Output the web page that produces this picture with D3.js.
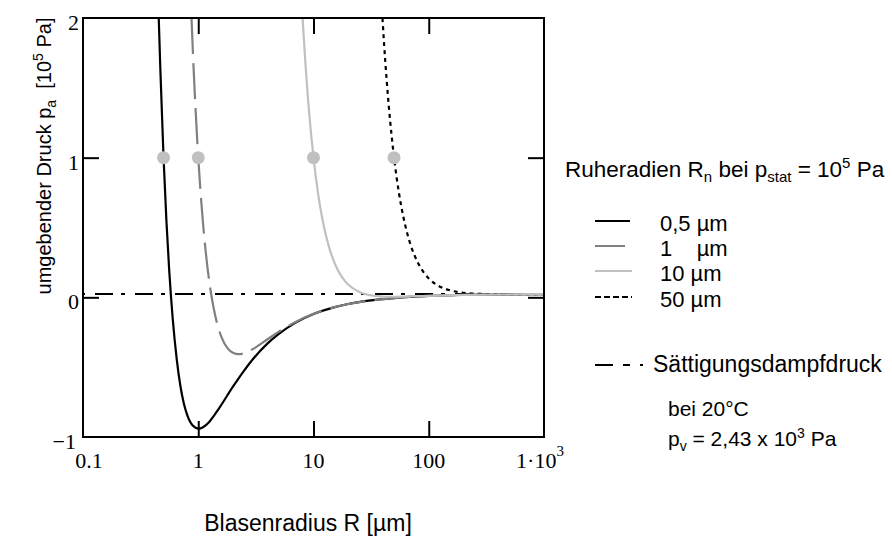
<!DOCTYPE html>
<html>
<head>
<meta charset="utf-8">
<title>Blake-Schwelle</title>
<style>
	body{ margin:0; background:#fff; }
	.sans{ font-family:"Liberation Sans", Arial, sans-serif; font-size:21px; fill:#000; }
	.serif{ font-family:"Liberation Serif", "Times New Roman", serif; font-size:22px; fill:#000; }
	.tick line{ stroke:#000; stroke-width:2; }
	.domain{ display:none; }
</style>
</head>
<body>
<div id="chart"></div>
<script src="https://d3js.org/d3.v7.min.js"></script>
<script type="text/javascript">

// Ruheradien (µm) und Legendentexte
var restRadius = [0.5, 1, 10, 50],
	legendLabels = ['0,5 µm', '1    µm', '10 µm', '50 µm'];

// Achsen
var xTicks = [0.1, 1, 10, 100, 1000],
	xTickLabels = ['0.1', '1', '10', '100', '1·10'],
	yTicks = [-1, 0, 1, 2],
	yTickLabels = ['\u22121', '0', '1', '2'];

// Sättigungsdampfdruck in 10^5 Pa
var vaporPressure = 0.0243;

var curve05 = [[0.454,2.0],[0.47,1.61],[0.5,1.0],[0.53,0.54],[0.56,0.19],[0.6,-0.15],[0.65,-0.44],[0.7,-0.635],
	[0.75,-0.76],[0.8,-0.84],[0.9,-0.92],[1.0,-0.94],[1.1,-0.93],[1.25,-0.89],[1.5,-0.80],[2,-0.64],[2.5,-0.525],
	[3,-0.44],[4,-0.33],[5,-0.262],[7,-0.181],[10,-0.12],[15,-0.072],[20,-0.048],[30,-0.024],[50,-0.005],
	[100,0.0098],[200,0.017],[500,0.0214],[1000,0.0229]];

var curve1 = [[0.874,2.0],[0.9,1.74],[0.95,1.33],[1.0,1.0],[1.05,0.74],[1.1,0.53],[1.2,0.22],[1.3,0.013],
	[1.4,-0.127],[1.6,-0.29],[1.8,-0.365],[2.0,-0.397],[2.24,-0.407],[2.6,-0.395],[3,-0.369],[4,-0.30],
	[5,-0.246],[7,-0.176],[10,-0.118],[15,-0.072],[20,-0.048],[30,-0.024],[50,-0.005],[100,0.0098],
	[200,0.017],[500,0.0214],[1000,0.0229]];

var curve10 = [[8.04,2.0],[8.5,1.68],[9,1.40],[9.5,1.18],[10,1.0],[11,0.734],[12,0.552],[13,0.423],[14,0.329],
	[16,0.207],[18,0.136],[20,0.092],[25,0.038],[30,0.0175],[40,0.0056],[48,0.0042],[60,0.0053],[80,0.0084],
	[100,0.0109],[200,0.0172],[500,0.0214],[1000,0.0229]];

var curve50 = [[39.67,2.0],[41,1.81],[43,1.57],[45,1.37],[47.5,1.166],[50,1.0],[55,0.753],[60,0.582],[65,0.459],
	[70,0.37],[80,0.252],[90,0.181],[100,0.135],[120,0.085],[150,0.052],[200,0.0328],[300,0.0241],[500,0.0224],
	[700,0.0226],[1000,0.023]];

var w = 892, h = 538,
	plotLeft = 83, plotRight = 544, plotTop = 18, plotBottom = 437;

var x = d3.scaleLog().domain([0.1, 1000]).range([plotLeft, plotRight]),
	y = d3.scaleLinear().domain([-1, 2]).range([plotBottom, plotTop]);

var svg = d3.select('#chart').append('svg').attr('width', w).attr('height', h);

svg.append('defs').append('clipPath').attr('id', 'plot')
	.append('rect').attr('x', plotLeft).attr('y', plotTop)
	.attr('width', plotRight - plotLeft).attr('height', plotBottom - plotTop);

// Sättigungsdampfdruck
svg.append('line')
	.attr('x1', plotLeft).attr('x2', plotRight)
	.attr('y1', y(vaporPressure)).attr('y2', y(vaporPressure))
	.style('stroke', '#000').style('stroke-width', 2)
	.style('stroke-dasharray', '18,8,4,10').style('stroke-dashoffset', 28);

var line = d3.line()
	.x(function(d){ return x(d[0]); })
	.y(function(d){ return y(d[1]); })
	.curve(d3.curveMonotoneX);

var curves = [
	{data: curve05, color: '#000', dash: null},
	{data: curve1, color: '#808080', dash: '36,9'},
	{data: curve50, color: '#000', dash: '4,4'},
	{data: curve10, color: '#c0c0c0', dash: null}
];

svg.append('g').attr('clip-path', 'url(#plot)')
	.selectAll('path').data(curves).enter().append('path')
	.attr('d', function(d){ return line(d.data); })
	.style('fill', 'none')
	.style('stroke', function(d){ return d.color; })
	.style('stroke-width', 2.2)
	.style('stroke-dasharray', function(d){ return d.dash; });

// Markierungen bei p_a = 1
svg.selectAll('circle.rest').data(restRadius).enter().append('circle')
	.attr('class', 'rest')
	.attr('cx', function(d){ return x(d); })
	.attr('cy', y(1))
	.attr('r', 6.5)
	.style('fill', '#c0c0c0');

// Rahmen und Striche nach innen
svg.append('rect')
	.attr('x', plotLeft).attr('y', plotTop)
	.attr('width', plotRight - plotLeft).attr('height', plotBottom - plotTop)
	.style('fill', 'none').style('stroke', '#000').style('stroke-width', 2);

var inner = xTicks.slice(1, -1), innerY = yTicks.slice(1, -1);
svg.append('g').attr('transform', 'translate(0,' + plotBottom + ')')
	.call(d3.axisBottom(x).tickValues(inner).tickSize(-16).tickFormat(''));
svg.append('g').attr('transform', 'translate(0,' + plotTop + ')')
	.call(d3.axisTop(x).tickValues(inner).tickSize(-16).tickFormat(''));
svg.append('g').attr('transform', 'translate(' + plotLeft + ',0)')
	.call(d3.axisLeft(y).tickValues(innerY).tickSize(-16).tickFormat(''));
svg.append('g').attr('transform', 'translate(' + plotRight + ',0)')
	.call(d3.axisRight(y).tickValues(innerY).tickSize(-16).tickFormat(''));

// Achsenbeschriftung
svg.selectAll('text.xt').data(xTicks).enter().append('text')
	.attr('class', 'serif xt')
	.attr('x', function(d, i){ return x(d) + (i == 0 ? 6 : (i == xTicks.length - 1 ? -4 : 0)); })
	.attr('y', 468)
	.attr('text-anchor', 'middle')
	.text(function(d, i){ return xTickLabels[i]; })
	.filter(function(d, i){ return i == xTicks.length - 1; })
	.append('tspan').attr('dy', -12).style('font-size', '15px').text('3');

svg.selectAll('text.yt').data(yTicks).enter().append('text')
	.attr('class', 'serif yt')
	.attr('x', function(d){ return d < 0 ? 76 : 79; })
	.attr('y', function(d){ return y(d) + 12; })
	.attr('text-anchor', 'end')
	.text(function(d, i){ return yTickLabels[i]; });

var yl = svg.append('text').attr('class', 'sans')
	.attr('transform', 'translate(51,156) rotate(-90)')
	.attr('text-anchor', 'middle')
	.style('font-size', '20px')
	.style('white-space', 'pre');
yl.append('tspan').text('umgebender Druck p');
yl.append('tspan').attr('dy', 5).style('font-size', '14px').text('a');
yl.append('tspan').attr('dy', -5).text('  [10');
yl.append('tspan').attr('dy', -8).style('font-size', '14px').text('5');
yl.append('tspan').attr('dy', 8).text(' Pa]');

svg.append('text').attr('class', 'sans')
	.attr('x', 308).attr('y', 531).attr('text-anchor', 'middle')
	.style('font-size', '23px')
	.text('Blasenradius R [µm]');

// Legende
var lg = svg.append('text').attr('class', 'sans').attr('x', 565).attr('y', 177)
	.style('font-size', '22.5px');
lg.append('tspan').text('Ruheradien R');
lg.append('tspan').attr('dy', 5).style('font-size', '15px').text('n');
lg.append('tspan').attr('dy', -5).text(' bei p');
lg.append('tspan').attr('dy', 5).style('font-size', '15px').text('stat');
lg.append('tspan').attr('dy', -5).text(' = 10');
lg.append('tspan').attr('dy', -9).style('font-size', '15px').text('5');
lg.append('tspan').attr('dy', 9).text(' Pa');

var rowY = [221, 246, 271, 297],
	rowStyle = [['#000', null, 630], ['#808080', null, 625], ['#c0c0c0', null, 632], ['#000', '6,3', 632]];

var rows = svg.selectAll('g.row').data(legendLabels).enter().append('g').attr('class', 'row');
rows.append('line')
	.attr('x1', 595).attr('x2', function(d, i){ return rowStyle[i][2]; })
	.attr('y1', function(d, i){ return rowY[i]; }).attr('y2', function(d, i){ return rowY[i]; })
	.style('stroke', function(d, i){ return rowStyle[i][0]; })
	.style('stroke-width', 2)
	.style('stroke-dasharray', function(d, i){ return rowStyle[i][1]; });
rows.append('text').attr('class', 'sans')
	.attr('x', 660).attr('y', function(d, i){ return rowY[i] + 10; })
	.style('font-size', '22px')
	.style('white-space', 'pre')
	.text(function(d){ return d; });

svg.append('line')
	.attr('x1', 595).attr('x2', 643).attr('y1', 365).attr('y2', 365)
	.style('stroke', '#000').style('stroke-width', 2)
	.style('stroke-dasharray', '18,10,7,10,3,20');
svg.append('text').attr('class', 'sans').attr('x', 653).attr('y', 372)
	.style('font-size', '23px').text('Sättigungsdampfdruck');
svg.append('text').attr('class', 'sans').attr('x', 668).attr('y', 416).text('bei 20°C');

var pv = svg.append('text').attr('class', 'sans').attr('x', 668).attr('y', 446);
pv.append('tspan').text('p');
pv.append('tspan').attr('dy', 5).style('font-size', '14px').text('v');
pv.append('tspan').attr('dy', -5).text(' = 2,43 x 10');
pv.append('tspan').attr('dy', -8).style('font-size', '14px').text('3');
pv.append('tspan').attr('dy', 8).text(' Pa');

</script>
</body>
</html>
